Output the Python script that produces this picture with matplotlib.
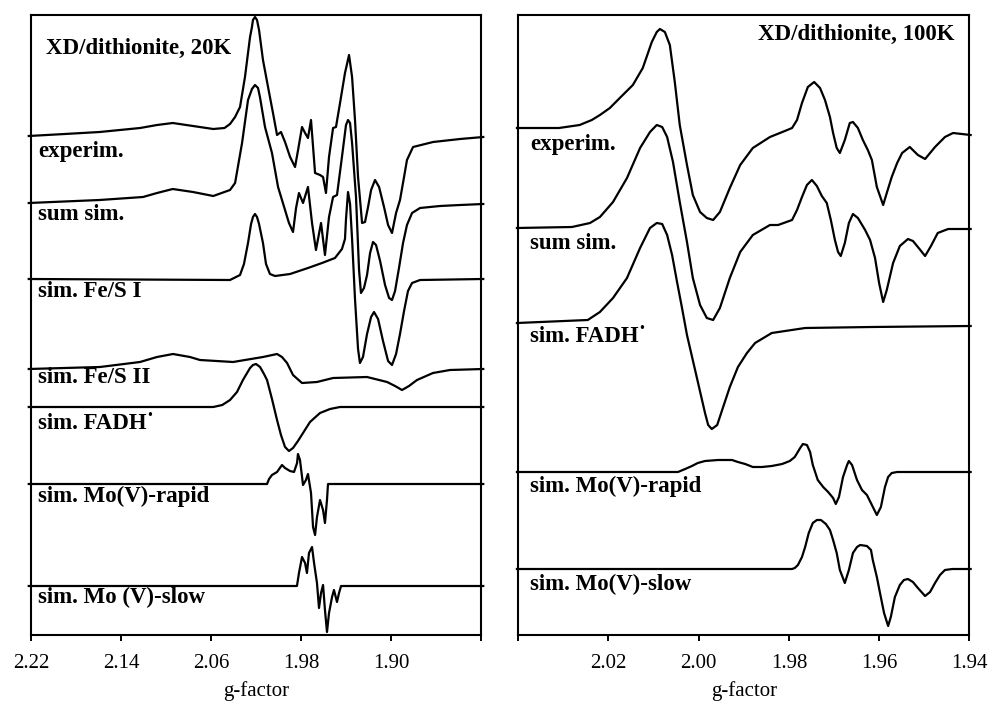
import matplotlib
matplotlib.use("Agg")
import matplotlib.pyplot as plt

plt.rcParams["font.family"] = ["Liberation Serif", "DejaVu Serif"]

# ---- left panel (20K): g-factor and amplitude above each trace's baseline ----
l_exp_g = [2.222, 2.19, 2.159, 2.123, 2.108, 2.094, 2.076, 2.058, 2.048, 2.0431, 2.0386, 2.0342,
           2.0298, 2.0253, 2.0236, 2.0227, 2.0209, 2.0191, 2.0173, 2.0138, 2.0093, 2.0049, 2.0013,
           1.9978, 1.9942, 1.9897, 1.9853, 1.9826, 1.9791, 1.9764, 1.9738, 1.9711, 1.9675, 1.9631,
           1.9604, 1.9578, 1.9551, 1.9515, 1.9489, 1.9453, 1.9409, 1.9373, 1.9346, 1.932, 1.9293,
           1.9257, 1.9231, 1.9204, 1.9177, 1.9142, 1.9106, 1.9062, 1.9026, 1.8991, 1.8955, 1.892,
           1.8884, 1.8858, 1.8804, 1.8626, 1.8386, 1.818]
l_exp_a = [1, 3, 5, 9, 12, 14, 11, 8, 9, 13, 20, 30,
           60, 100, 110, 117, 120, 117, 107, 77, 50, 24, 2,
           5, -5, -20, -30, -13, 10, 4, -1, 17, -36, -38,
           -40, -56, -20, 9, 10, 34, 64, 82, 60, 17, -40,
           -86, -85, -70, -53, -43, -50, -70, -88, -96, -76, -63,
           -40, -23, -10, -5, -2, 0]

l_sum_g = [2.222, 2.159, 2.1204, 2.108, 2.094, 2.076, 2.058, 2.0431, 2.0386, 2.0324, 2.0271, 2.0236,
           2.0209, 2.0182, 2.0165, 2.012, 2.0058, 2.0004, 1.9942, 1.9907, 1.9871, 1.9844, 1.9818,
           1.9782, 1.9738, 1.9702, 1.9667, 1.9622, 1.9587, 1.9551, 1.9515, 1.948, 1.9436, 1.94,
           1.9382, 1.9364, 1.9346, 1.9311, 1.9284, 1.9267, 1.924, 1.9213, 1.9186, 1.916, 1.9133,
           1.9097, 1.9053, 1.9017, 1.8991, 1.8964, 1.8929, 1.8893, 1.8858, 1.8813, 1.8742, 1.8564,
           1.8386, 1.818]
l_sum_a = [0, 3, 6, 10, 14, 11, 7, 13, 20, 60, 103, 114,
           118, 115, 106, 76, 50, 16, -7, -20, -29, -5, 10,
           0, 16, -20, -47, -20, -52, -14, 6, 8, 46, 78,
           83, 80, 60, 6, -67, -90, -85, -72, -50, -39, -42,
           -58, -82, -95, -97, -88, -65, -40, -22, -10, -5, -3,
           -2, -1]

l_fes1_g = [2.222, 2.0431, 2.0342, 2.0307, 2.0271, 2.0244, 2.0227, 2.0209, 2.0191, 2.0173, 2.0138,
            2.0111, 2.0076, 2.0031, 1.9897, 1.9738, 1.9613, 1.9498, 1.9436, 1.9409, 1.94, 1.9382,
            1.9364, 1.9346, 1.932, 1.9293, 1.9276, 1.9249, 1.9213, 1.9177, 1.9151, 1.9115, 1.9071,
            1.9026, 1.8991, 1.8955, 1.892, 1.8884, 1.8849, 1.8813, 1.8742, 1.818]
l_fes1_a = [0, -1, 4, 15, 36, 55, 62, 65, 62, 55, 36,
            15, 5, 3, 5, 11, 16, 21, 30, 40, 60, 87,
            75, 40, -20, -70, -84, -78, -55, -38, -33, -40, -62,
            -82, -86, -75, -55, -32, -12, -4, -1, 0]

l_fes2_g = [2.222, 2.1587, 2.1231, 2.108, 2.0938, 2.0787, 2.0698, 2.0404, 2.0138, 2.0013, 1.9969,
            1.9924, 1.9871, 1.9791, 1.9658, 1.9515, 1.9213, 1.9035, 1.8964, 1.8902, 1.884, 1.8769,
            1.8627, 1.8476, 1.818]
l_fes2_a = [0, 2, 7, 12, 15, 12, 9, 7, 12, 15, 12,
            6, -6, -14, -13, -9, -8, -13, -17, -21, -17, -11,
            -4, -1, 0]

l_fad_g = [2.222, 2.058, 2.05, 2.0431, 2.0369, 2.0316, 2.0253, 2.0227, 2.02, 2.0164, 2.0129,
           2.0102, 2.0058, 2.0013, 1.9978, 1.9942, 1.9907, 1.9871, 1.9827, 1.9782, 1.972, 1.9631,
           1.9542, 1.9453, 1.818]
l_fad_a = [0, 0, 2, 7, 15, 27, 39, 42, 43, 40, 33,
           27, 8, -13, -28, -40, -44, -41, -34, -26, -15, -6,
           -2, 0, 0]

l_mor_g = [2.222, 2.0102, 2.0084, 2.0058, 2.0013, 1.9969, 1.9942, 1.9898, 1.9862, 1.9835, 1.9827,
           1.9809, 1.9782, 1.9756, 1.9738, 1.9711, 1.9693, 1.9675, 1.9658, 1.9631, 1.9604, 1.9587,
           1.9569, 1.956, 1.818]
l_mor_a = [0, 0, 5, 9, 12, 19, 16, 13, 12, 21, 30,
           24, -1, 4, 10, -9, -43, -51, -33, -16, -26, -39,
           -16, 0, 0]

l_mos_g = [2.222, 1.9836, 1.9818, 1.9791, 1.9764, 1.9747, 1.9729, 1.9702, 1.9684, 1.9658, 1.964,
           1.9622, 1.9604, 1.9587, 1.9569, 1.9551, 1.9524, 1.9507, 1.948, 1.9462, 1.9444, 1.818]
l_mos_a = [0, 0, 13, 29, 23, 13, 33, 39, 23, 3, -22,
           -7, 1, -24, -46, -27, -11, -4, -16, -7, 0, 0]

l_offsets = [498, 432, 356, 266, 228, 151, 49]
l_labels = ["experim.", "sum sim.", "sim. Fe/S I", "sim. Fe/S II", "sim. FADH\u02d9",
            "sim. Mo(V)-rapid", "sim. Mo (V)-slow"]
l_label_y = [478, 415, 338, 252, 206, 133, 32]
l_ticks = [2.22, 2.14, 2.06, 1.98, 1.90, 1.82]
l_ticklabels = ["2.22", "2.14", "2.06", "1.98", "1.90", ""]

# ---- right panel (100K) ----
r_exp_g = [2.0403, 2.031, 2.0264, 2.0237, 2.0219, 2.0197, 2.0175, 2.0146, 2.0124, 2.0104, 2.0093,
           2.0086, 2.0075, 2.0064, 2.0053, 2.0042, 2.0026, 2.0013, 1.9997, 1.9982, 1.9968, 1.9953,
           1.9931, 1.9908, 1.988, 1.9842, 1.9809, 1.9793, 1.9782, 1.9771, 1.9758, 1.9744, 1.9731,
           1.972, 1.9709, 1.9702, 1.9694, 1.9687, 1.9676, 1.9665, 1.9658, 1.9647, 1.9636, 1.9625,
           1.9616, 1.9605, 1.9591, 1.9583, 1.9572, 1.956, 1.9549, 1.9532, 1.9514, 1.9498, 1.9487,
           1.9476, 1.9454, 1.9436, 1.9397]
r_exp_a = [0, 0, 3, 8, 13, 20, 30, 43, 60, 86, 96,
           99, 96, 83, 46, 3, -37, -67, -84, -90, -92, -84,
           -60, -37, -20, -9, -3, 0, 8, 25, 41, 46, 40,
           28, 11, -5, -20, -25, -12, 5, 6, 0, -12, -22,
           -32, -59, -77, -65, -49, -35, -25, -19, -27, -31, -25,
           -19, -9, -5, -7]

r_sum_g = [2.0403, 2.0281, 2.0241, 2.0219, 2.019, 2.0159, 2.013, 2.0108, 2.0093, 2.0081, 2.007,
           2.0057, 2.0042, 2.0026, 2.0013, 1.9997, 1.9982, 1.9968, 1.9953, 1.9931, 1.9908, 1.988,
           1.9842, 1.9824, 1.9793, 1.9782, 1.9771, 1.976, 1.9749, 1.9738, 1.9727, 1.9716, 1.9707,
           1.9698, 1.9691, 1.9685, 1.9676, 1.9667, 1.9658, 1.9647, 1.9631, 1.962, 1.9609, 1.96,
           1.9591, 1.9583, 1.9569, 1.9554, 1.9536, 1.9525, 1.9514, 1.9498, 1.9485, 1.947, 1.9447,
           1.9397]
r_sum_a = [0, 1, 5, 11, 26, 50, 80, 96, 103, 101, 91,
           66, 26, -14, -50, -77, -90, -92, -80, -50, -24, -7,
           3, 3, 8, 18, 31, 43, 48, 42, 32, 25, 8,
           -12, -24, -28, -15, 5, 14, 10, -2, -12, -30, -55,
           -74, -62, -35, -18, -11, -13, -19, -28, -18, -5, -1,
           -1]

r_fad_g = [2.0403, 2.0246, 2.0219, 2.019, 2.0159, 2.013, 2.0108, 2.0093, 2.0081, 2.007, 2.0059,
           2.0048, 2.0037, 2.0026, 2.0008, 1.9986, 1.9979, 1.9971, 1.9959, 1.9948, 1.9931, 1.9913,
           1.9893, 1.9875, 1.9838, 1.9764, 1.9616, 1.9397]
r_fad_a = [0, 3, 11, 25, 45, 75, 95, 100, 99, 88, 68,
           41, 15, -12, -47, -90, -102, -106, -102, -87, -64, -44,
           -30, -20, -10, -5, -4, -3]

r_mor_g = [2.0403, 2.0046, 2.003, 2.0015, 2.0002, 1.9986, 1.9957, 1.9926, 1.9913, 1.9897, 1.988,
           1.986, 1.9838, 1.9815, 1.9798, 1.9787, 1.9775, 1.9769, 1.976, 1.9753, 1.9747, 1.9736,
           1.9724, 1.9713, 1.9702, 1.9696, 1.9689, 1.968, 1.9671, 1.9667, 1.966, 1.9649, 1.9638,
           1.9627, 1.9616, 1.9605, 1.9596, 1.9587, 1.958, 1.9572, 1.956, 1.9397]
r_mor_a = [0, 0, 3, 6, 9, 11, 12, 12, 10, 8, 5,
           5, 6, 8, 11, 15, 24, 28, 27, 20, 7, -8,
           -15, -20, -26, -32, -25, -5, 7, 11, 7, -8, -18,
           -23, -33, -43, -35, -15, -5, -1, 0, 0]

r_mos_g = [2.0403, 1.9793, 1.9787, 1.978, 1.9771, 1.9764, 1.9756, 1.9747, 1.9738, 1.9729, 1.9718,
           1.9709, 1.9702, 1.9694, 1.9687, 1.9676, 1.9667, 1.9658, 1.9649, 1.9642, 1.9627, 1.9618,
           1.9614, 1.9605, 1.9598, 1.9589, 1.958, 1.9574, 1.9565, 1.9554, 1.9545, 1.9536, 1.9525,
           1.9514, 1.9498, 1.9487, 1.9476, 1.9465, 1.9454, 1.9438, 1.9397]
r_mos_a = [0, 0, 1, 4, 12, 22, 36, 46, 49, 49, 45,
           39, 29, 16, -1, -14, -1, 16, 22, 24, 23, 19,
           9, -8, -24, -44, -57, -48, -28, -16, -11, -10, -13,
           -19, -27, -23, -14, -6, -1, 0, 0]

r_offsets = [507, 407, 312, 163, 66]
r_labels = ["experim.", "sum sim.", "sim. FADH\u02d9", "sim. Mo(V)-rapid", "sim. Mo(V)-slow"]
r_label_y = [485, 386, 293, 143, 45]
r_ticks = [2.04, 2.02, 2.00, 1.98, 1.96, 1.94]
r_ticklabels = ["", "2.02", "2.00", "1.98", "1.96", "1.94"]

left_traces = [(l_exp_g, l_exp_a), (l_sum_g, l_sum_a), (l_fes1_g, l_fes1_a), (l_fes2_g, l_fes2_a),
               (l_fad_g, l_fad_a), (l_mor_g, l_mor_a), (l_mos_g, l_mos_a)]
right_traces = [(r_exp_g, r_exp_a), (r_sum_g, r_sum_a), (r_fad_g, r_fad_a),
                (r_mor_g, r_mor_a), (r_mos_g, r_mos_a)]

fig = plt.figure(figsize=(9.89, 7.02), dpi=100)
ax_l = fig.add_axes([31 / 989, 67 / 702, 450 / 989, 620 / 702])
ax_r = fig.add_axes([518.3 / 989, 67 / 702, 451 / 989, 620 / 702])


def draw_panel(ax, traces, offsets, labels, label_y, label_x, ticks, ticklabels, xlim):
    for (g, a), off in zip(traces, offsets):
        ax.plot(g, [v + off for v in a], color="black", lw=1.6, clip_on=False,
                solid_joinstyle="round")
    for lab, yy in zip(labels, label_y):
        ax.text(label_x, yy, lab, transform=ax.get_yaxis_transform(), fontsize=16.5,
                fontweight="bold", va="baseline", ha="left")
    ax.set_xlim(*xlim)
    ax.set_ylim(0, 620)
    ax.set_xticks(ticks)
    ax.set_xticklabels(ticklabels)
    ax.set_yticks([])
    ax.tick_params(axis="x", direction="out", length=4.5, width=1.4, labelsize=15, pad=9)
    for sp in ax.spines.values():
        sp.set_linewidth(1.5)
    ax.set_xlabel("g-factor", fontsize=15, labelpad=6)


draw_panel(ax_l, left_traces, l_offsets, l_labels, l_label_y, 0.0156, l_ticks, l_ticklabels,
           (2.22, 1.82))
draw_panel(ax_r, right_traces, r_offsets, r_labels, r_label_y, 0.026, r_ticks, r_ticklabels,
           (2.04, 1.94))

ax_l.text(0.033, 581, "XD/dithionite, 20K", transform=ax_l.get_yaxis_transform(),
          fontsize=16.5, fontweight="bold", va="baseline", ha="left")
ax_r.text(0.968, 595, "XD/dithionite, 100K", transform=ax_r.get_yaxis_transform(),
          fontsize=16.5, fontweight="bold", va="baseline", ha="right")

fig.savefig("out.png", dpi=100)
